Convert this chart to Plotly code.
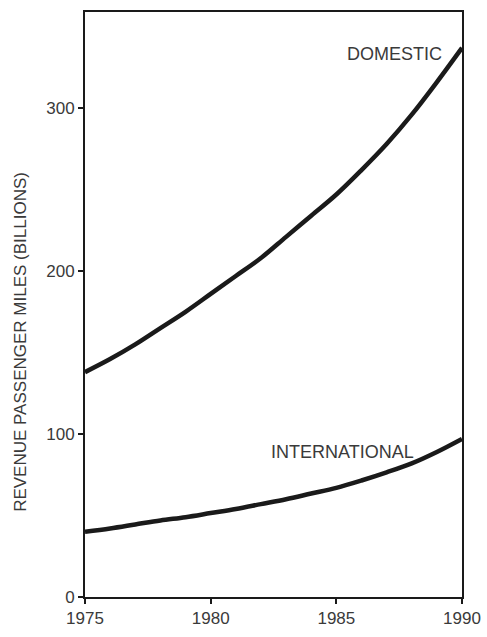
import plotly.graph_objects as go

years = [1975, 1976, 1977, 1978, 1979, 1980, 1981, 1982, 1983, 1984, 1985, 1986, 1987, 1988, 1989, 1990]
domestic = [138, 146, 155, 165, 175, 186, 197, 208, 221, 234, 247, 262, 278, 296, 316, 337]
international = [40, 42, 44.5, 47, 49, 51.5, 54, 57, 60, 63.5, 67, 71.5, 76.5, 82, 89, 97]

x_ticks = [1975, 1980, 1985, 1990]
y_ticks = [0, 100, 200, 300]

line_color = "#1a1a1a"
text_color = "#3a3a3a"
font_family = "Liberation Sans, Arial, sans-serif"

# page body keeps its default 8px left/top margin, so the figure is offset by 8px
fig_w, fig_h = 479, 629
left, right, top, bottom = 77, 25, 2, 40

fig = go.Figure()
fig.add_trace(go.Scatter(x=years, y=domestic, mode="lines",
                         line=dict(color=line_color, width=4.5, shape="spline"), name="DOMESTIC"))
fig.add_trace(go.Scatter(x=years, y=international, mode="lines",
                         line=dict(color=line_color, width=4.5, shape="spline"), name="INTERNATIONAL"))

fig.add_annotation(x=1990, y=337, xref="x", yref="y", text="DOMESTIC", showarrow=False,
                   xanchor="right", yanchor="middle", xshift=-18, yshift=-6,
                   font=dict(family=font_family, size=18, color=text_color))
fig.add_annotation(x=1990, y=97, xref="x", yref="y", text="INTERNATIONAL", showarrow=False,
                   xanchor="right", yanchor="middle", xshift=-46, yshift=-13,
                   font=dict(family=font_family, size=18, color=text_color))

plot_w = fig_w - left - right
plot_h = fig_h - top - bottom
fig.add_annotation(x=(13 - left) / plot_w, y=(fig_h - bottom - 333) / plot_h,
                   xref="paper", yref="paper", text="REVENUE PASSENGER MILES (BILLIONS)",
                   showarrow=False, textangle=-90, xanchor="center", yanchor="middle",
                   font=dict(family=font_family, size=17, color=text_color))

fig.update_layout(
    width=fig_w, height=fig_h, autosize=False,
    margin=dict(l=left, r=right, t=top, b=bottom),
    paper_bgcolor="white", plot_bgcolor="white",
    showlegend=False,
    font=dict(family=font_family, size=17, color=text_color),
    xaxis=dict(range=[1975, 1990], tickvals=x_ticks, ticktext=[str(v) for v in x_ticks],
               showgrid=False, zeroline=False, showline=True, linecolor=line_color, linewidth=2,
               mirror=True, ticks="outside", ticklen=5, tickwidth=2, tickcolor=line_color),
    yaxis=dict(range=[0, 359], tickvals=y_ticks, ticktext=[str(v) for v in y_ticks],
               showgrid=False, zeroline=False, showline=True, linecolor=line_color, linewidth=2,
               mirror=True, ticks="outside", ticklen=5, tickwidth=2, tickcolor=line_color),
)

fig.write_html("out.html", config={"displayModeBar": False, "responsive": False},
               post_script="document.body.style.marginRight='0';document.body.style.marginBottom='0';"
                           "document.documentElement.style.overflow='hidden';")
